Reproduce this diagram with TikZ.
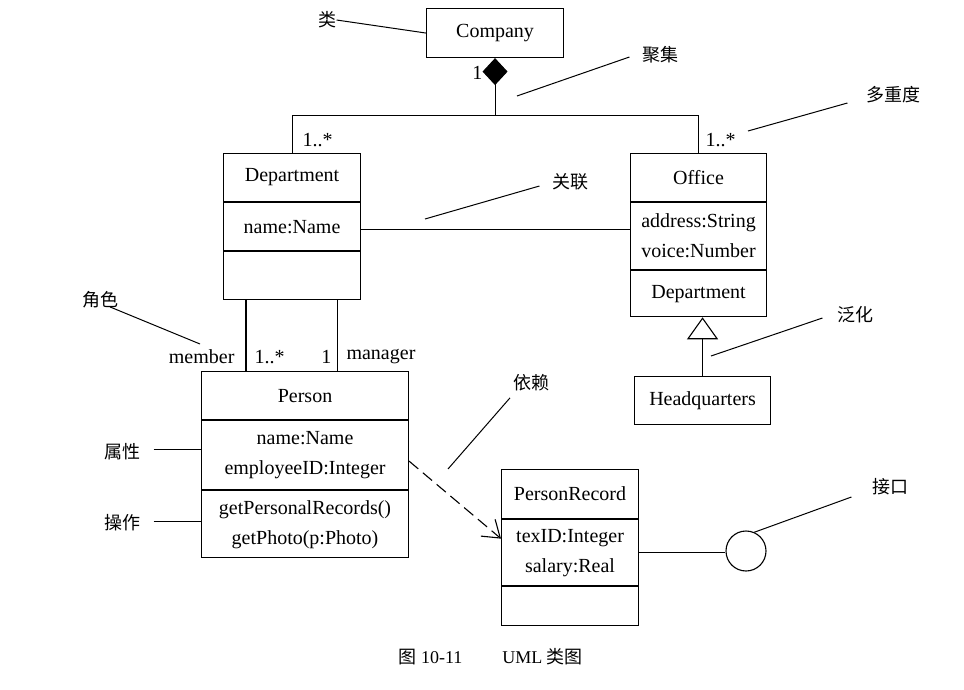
\documentclass[tikz,border=0pt]{standalone}
\usepackage{fontspec}
\setmainfont{Liberation Serif}
\newfontfamily\cjk{Noto Sans CJK SC}
\usetikzlibrary{arrows.meta,positioning}

\begin{document}
\begin{tikzpicture}[
  x=1pt, y=-1pt,
  line width=1.1pt,
  font=\fontsize{20}{30}\selectfont,
  cls/.style={draw,minimum width=137pt,minimum height=48pt,inner sep=0pt,align=center},
  mult/.style={inner sep=0pt},
  note/.style={inner sep=0pt,font=\cjk\fontsize{18}{20}\selectfont},
  leader/.style={line width=1pt},
  comp/.style={{Diamond[length=27pt,width=25pt]}-},
  gen/.style={-{Triangle[open,length=22pt,width=31pt]}},
  dep/.style={dash pattern=on 12pt off 6pt,-{Straight Barb[length=16pt,width=22pt]}}
]
  \useasboundingbox (0,0) rectangle (964,690);

  % classes
  \node[cls,anchor=north west,minimum height=49pt] (company) at (426,8) {Company};

  \node[cls,anchor=north west] (dept) at (223,153) {Department};
  \node[cls,below=0pt of dept] (deptattr) {name:Name};
  \node[cls,below=0pt of deptattr] (deptops) {};

  \node[cls,anchor=north west,minimum width=136pt] (office) at (630,153) {Office};
  \node[cls,below=0pt of office,minimum width=136pt,minimum height=67pt] (officeattr) {address:String\\voice:Number};
  \node[cls,below=0pt of officeattr,minimum width=136pt,minimum height=46pt] (officeops) {Department};
  \node[cls,anchor=north west,minimum width=136pt] (hq) at (634,376) {Headquarters};

  \node[cls,anchor=north west,minimum width=207pt] (person) at (201,371) {Person};
  \node[cls,below=0pt of person,minimum width=207pt,minimum height=69pt] (personattr) {name:Name\\employeeID:Integer};
  \node[cls,below=0pt of personattr,minimum width=207pt,minimum height=67pt] (personops) {getPersonalRecords()\\getPhoto(p:Photo)};

  \node[cls,anchor=north west,minimum height=49pt] (record) at (501,469) {PersonRecord};
  \node[cls,below=0pt of record,minimum height=66pt] (recordattr) {texID:Integer\\salary:Real};
  \node[cls,below=0pt of recordattr,minimum height=39pt] (recordops) {};
  \node[draw,circle,minimum size=40pt,inner sep=0pt] (iface) at (746,551) {};

  % relations
  \coordinate (joint) at ([yshift=-57pt]company.south);
  \draw[comp] (company.south) -- (joint);
  \draw (dept.north) |- (joint) -| (office.north);
  \node[mult,anchor=east] (mcomp) at (483,73) {1};
  \node[mult,anchor=west] (mdept) at (302,140) {1..*};
  \node[mult,anchor=west] (moffice) at (705,140) {1..*};

  \draw ([yshift=-3pt]deptattr.east) -- ([yshift=-3pt]deptattr.east -| officeattr.west);

  \draw ([xshift=23pt]deptops.south west) -- ([xshift=23pt]deptops.south west |- person.north);
  \draw ([xshift=-24pt]deptops.south east) -- ([xshift=-24pt]deptops.south east |- person.north);
  \node[mult,anchor=east] (mmember) at (235,357) {member};
  \node[mult,anchor=west] (mmany) at (254,357) {1..*};
  \node[mult,anchor=east] (mone) at (332,357) {1};
  \node[mult,anchor=west] (mmanager) at (346,357) {manager};

  \draw[gen] (hq.north) -- (hq.north |- officeops.south);
  \draw[dep] ([yshift=-6pt]personattr.east) -- ([yshift=14pt]recordattr.west);
  \draw (recordattr.east) -- (recordattr.east -| iface.west);

  % annotations
  \node[note] (nclass) at (327,20) {类};
  \draw[leader] (nclass.east) -- (company.west);

  \node[note] (nagg) at (660,55) {聚集};
  \coordinate (aggpt) at (517,96);
  \draw[leader] ([xshift=-12pt,yshift=-2pt]nagg.west) -- (aggpt);

  \node[note] (nmult) at (893,95) {多重度};
  \coordinate (multpt) at (748,131);
  \draw[leader] ([xshift=-18pt,yshift=-8pt]nmult.west) -- (multpt);

  \node[note] (nassoc) at (570,182) {关联};
  \coordinate (assocpt) at (425,219);
  \draw[leader] ([xshift=-12pt,yshift=-4pt]nassoc.west) -- (assocpt);

  \node[note] (nrole) at (100,300) {角色};
  \coordinate (rolept) at (200,344);
  \draw[leader] ([xshift=10pt,yshift=2pt]nrole.south) -- (rolept);

  \node[note] (ngen) at (855,315) {泛化};
  \coordinate (genpt) at (711,356);
  \draw[leader] ([xshift=-14pt,yshift=-3pt]ngen.west) -- (genpt);

  \node[note] (ndep) at (531,383) {依赖};
  \coordinate (deppt) at (448,469);
  \draw[leader] ([xshift=-21pt,yshift=-6pt]ndep.south) -- (deppt);

  \node[note] (nattr) at (122,452) {属性};
  \draw[leader] ([xshift=13pt,yshift=3pt]nattr.east) coordinate (attrpt) -- (attrpt -| personattr.west);

  \node[note] (nops) at (122,523) {操作};
  \draw[leader] ([xshift=13pt,yshift=2pt]nops.east) coordinate (opspt) -- (opspt -| personops.west);

  \node[note] (niface) at (890,487) {接口};
  \draw[leader] ([xshift=-20pt,yshift=-10pt]niface.west) -- (iface.66);

  \node[inner sep=0pt,anchor=west,font=\fontsize{18}{20}\selectfont] (caption) at (398,657)
    {{\cjk 图}\ 10-11\hspace{40pt}UML {\cjk 类图}};
\end{tikzpicture}
\end{document}
